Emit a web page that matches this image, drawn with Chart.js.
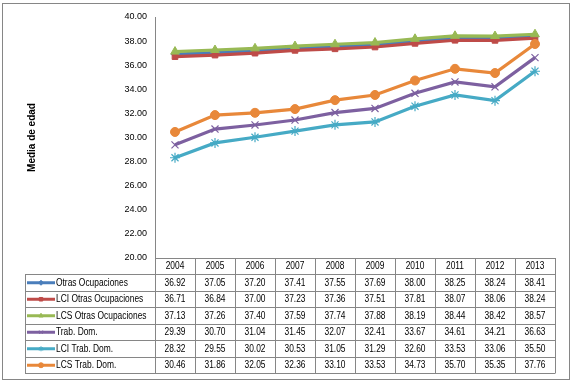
<!DOCTYPE html>
<html>
<head>
<meta charset="utf-8">
<script src="https://cdn.jsdelivr.net/npm/chart.js@4/dist/chart.umd.min.js"></script>
<style>
	body { margin: 0; background: #fff; }
	canvas { display: block; }
</style>
</head>
<body>
<canvas id="grafica" width="577" height="383"></canvas>
<script>
const anios = ['2004', '2005', '2006', '2007', '2008', '2009', '2010', '2011', '2012', '2013'];
const otrasOcup = [36.92, 37.05, 37.20, 37.41, 37.55, 37.69, 38.00, 38.25, 38.24, 38.41];
const lciOtras = [36.71, 36.84, 37.00, 37.23, 37.36, 37.51, 37.81, 38.07, 38.06, 38.24];
const lcsOtras = [37.13, 37.26, 37.40, 37.59, 37.74, 37.88, 38.19, 38.44, 38.42, 38.57];
const trabDom = [29.39, 30.70, 31.04, 31.45, 32.07, 32.41, 33.67, 34.61, 34.21, 36.63];
const lciTrab = [28.32, 29.55, 30.02, 30.53, 31.05, 31.29, 32.60, 33.53, 33.06, 35.50];
const lcsTrab = [30.46, 31.86, 32.05, 32.36, 33.10, 33.53, 34.73, 35.70, 35.35, 37.76];

(function () {
	const grafica = document.getElementById('grafica');
	const fuente = '"Liberation Sans", Arial, sans-serif';
	const gris = '#868686';

	const series = [
		{ label: 'Otras Ocupaciones', data: otrasOcup, color: '#4A7EBB', punto: 'rectRot', radio: 4 },
		{ label: 'LCI Otras Ocupaciones', data: lciOtras, color: '#BE4B48', punto: 'rect', radio: 4 },
		{ label: 'LCS Otras Ocupaciones', data: lcsOtras, color: '#98B954', punto: 'triangle', radio: 5 },
		{ label: 'Trab. Dom.', data: trabDom, color: '#7D60A0', punto: 'crossRot', radio: 5 },
		{ label: 'LCI Trab. Dom.', data: lciTrab, color: '#46AAC5', punto: 'star', radio: 5 },
		{ label: 'LCS Trab. Dom.', data: lcsTrab, color: '#E8883A', punto: 'circle', radio: 4.5 },
	];

	// texto angosto, como el de la tabla original
	function textoAngosto(ctx, txt, x, y, alinear) {
		ctx.save();
		ctx.translate(x, y);
		ctx.scale(0.8, 1);
		ctx.textAlign = alinear;
		ctx.fillText(txt, 0, 0);
		ctx.restore();
	}

	// --- tabla de datos bajo el eje X --- //
	const tablaDatos = {
		id: 'tablaDatos',
		afterDraw(chart) {
			const ctx = chart.ctx;
			const x = chart.scales.x;
			const area = chart.chartArea;
			const ancho = x.getPixelForValue(1) - x.getPixelForValue(0);
			const izq = 25;
			const top = area.bottom;
			const filaH = 16.5;
			const yHead = top + 16;
			const fondo = yHead + filaH * series.length;

			ctx.save();
			ctx.strokeStyle = gris;
			ctx.lineWidth = 1;

			// marco exterior
			ctx.strokeRect(2.5, 3.5, 567, 376);

			ctx.beginPath();
			// lineas horizontales
			ctx.moveTo(area.left, Math.round(top) + 0.5);
			ctx.lineTo(area.right, Math.round(top) + 0.5);
			for (let i = 0; i <= series.length; i++) {
				const y = Math.round(yHead + filaH * i) + 0.5;
				ctx.moveTo(izq, y);
				ctx.lineTo(area.right, y);
			}
			// lineas verticales
			ctx.moveTo(izq + 0.5, Math.round(yHead));
			ctx.lineTo(izq + 0.5, Math.round(fondo) + 0.5);
			for (let i = 0; i <= anios.length; i++) {
				const xx = Math.round(area.left + ancho * i) + 0.5;
				ctx.moveTo(xx, top);
				ctx.lineTo(xx, Math.round(fondo) + 0.5);
			}
			ctx.stroke();

			ctx.font = '10.5px ' + fuente;
			ctx.fillStyle = '#000';
			ctx.textBaseline = 'middle';
			anios.forEach((a, i) => {
				textoAngosto(ctx, a, x.getPixelForValue(i), top + 8.5, 'center');
			});

			series.forEach((s, f) => {
				const yc = yHead + filaH * f + filaH / 2 + 0.5;
				ctx.fillStyle = '#000';
				s.data.forEach((v, i) => {
					textoAngosto(ctx, v.toFixed(2), x.getPixelForValue(i), yc, 'center');
				});
				// muestra de leyenda
				ctx.strokeStyle = s.color;
				ctx.fillStyle = s.color;
				ctx.lineWidth = 3;
				ctx.beginPath();
				ctx.moveTo(27, yc);
				ctx.lineTo(55, yc);
				ctx.stroke();
				ctx.lineWidth = 1;
				Chart.helpers.drawPoint(ctx, {
					pointStyle: s.punto,
					radius: 2.5,
					borderWidth: 1,
				}, 41, yc);
				ctx.fillStyle = '#000';
				textoAngosto(ctx, s.label, 56, yc, 'left');
			});
			ctx.restore();
		},
	};

	new Chart(grafica, {
		type: 'line',
		data: {
			labels: anios,
			datasets: series.map((s, i) => ({
				label: s.label,
				data: s.data,
				borderColor: s.color,
				backgroundColor: s.color,
				borderWidth: 3.2,
				pointStyle: s.punto,
				pointRadius: s.radio,
				pointBorderWidth: (s.punto === 'crossRot' || s.punto === 'star') ? 1.2 : 1,
				pointBackgroundColor: s.color,
				pointBorderColor: s.color,
				tension: 0,
				order: series.length - i,
			})),
		},
		plugins: [tablaDatos],
		options: {
			responsive: false,
			animation: false,
			layout: {
				padding: { top: 17, right: 22, bottom: 125, left: 0 },
			},
			scales: {
				x: {
					display: false,
					offset: true,
				},
				y: {
					min: 20,
					max: 40,
					ticks: {
						stepSize: 2,
						color: '#000',
						padding: 8,
						font: { family: fuente, size: 9 },
						callback: (v) => v.toFixed(2),
					},
					grid: { display: false, drawTicks: false },
					border: { display: true, color: gris, width: 1 },
					title: {
						display: true,
						text: 'Media de edad',
						color: '#000',
						font: { family: fuente, size: 10, weight: 'bold' },
						padding: { top: 26, bottom: 0 },
					},
					afterFit(scale) {
						scale.width = 155;
					},
				},
			},
			plugins: {
				legend: { display: false },
				tooltip: { enabled: false },
			},
		},
	});
})();
</script>
</body>
</html>
